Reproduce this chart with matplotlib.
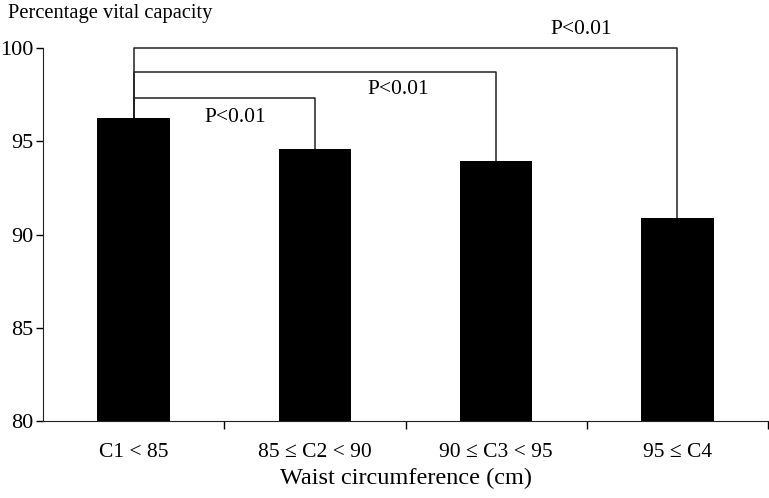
import matplotlib.pyplot as plt
import numpy as np

plt.rcParams['font.family'] = ['Liberation Serif', 'DejaVu Serif']

# dados
categorias = ['C1 < 85', '85 ≤ C2 < 90', '90 ≤ C3 < 95', '95 ≤ C4']
valores = [96.23, 94.58, 93.96, 90.87]

# comparações (grupo inicial, grupo final, altura da chave, texto)
comparacoes = [(0, 1, 97.3, 'P<0.01'), (0, 2, 98.7, 'P<0.01'), (0, 3, 100.0, 'P<0.01')]
# posição dos textos das chaves
textos_x = [0.56, 1.46, 2.47]
textos_y = [96.3, 97.75, 101.0]

fig = plt.figure(figsize=(7.69, 4.98), dpi=100)
ax = fig.add_axes([0.056, 0.1546, 0.9427, 0.749])

x = np.arange(len(categorias))
ax.bar(x, valores, width=0.4, color='black', zorder=2)

for (i, j, h, txt), tx, ty in zip(comparacoes, textos_x, textos_y):
    ax.plot([i, i, j, j], [valores[i], h, h, valores[j]], color='#222222', lw=1.1,
            clip_on=False, zorder=1)
    ax.text(tx, ty, txt, ha='center', va='center', fontsize=15.5, clip_on=False)

ax.set_xlim(-0.5, 3.5)
ax.set_ylim(80, 100)
ax.set_yticks([80, 85, 90, 95, 100])
ax.tick_params(axis='y', labelsize=16, length=5, width=1, pad=2)

ax.set_xticks(x)
ax.set_xticklabels(categorias)
ax.tick_params(axis='x', which='major', length=0, labelsize=15.5, pad=16)
ax.set_xticks([0.5, 1.5, 2.5, 3.5], minor=True)
ax.tick_params(axis='x', which='minor', length=6, width=1)

ax.spines['top'].set_visible(False)
ax.spines['right'].set_visible(False)
ax.spines['left'].set_color('#222222')
ax.spines['bottom'].set_color('#222222')

ax.set_xlabel('Waist circumference (cm)', fontsize=17.5, labelpad=4)
fig.text(0.011, 0.972, 'Percentage vital capacity', fontsize=14.8, ha='left', va='center')

plt.savefig('out.png', dpi=100)
plt.close()
